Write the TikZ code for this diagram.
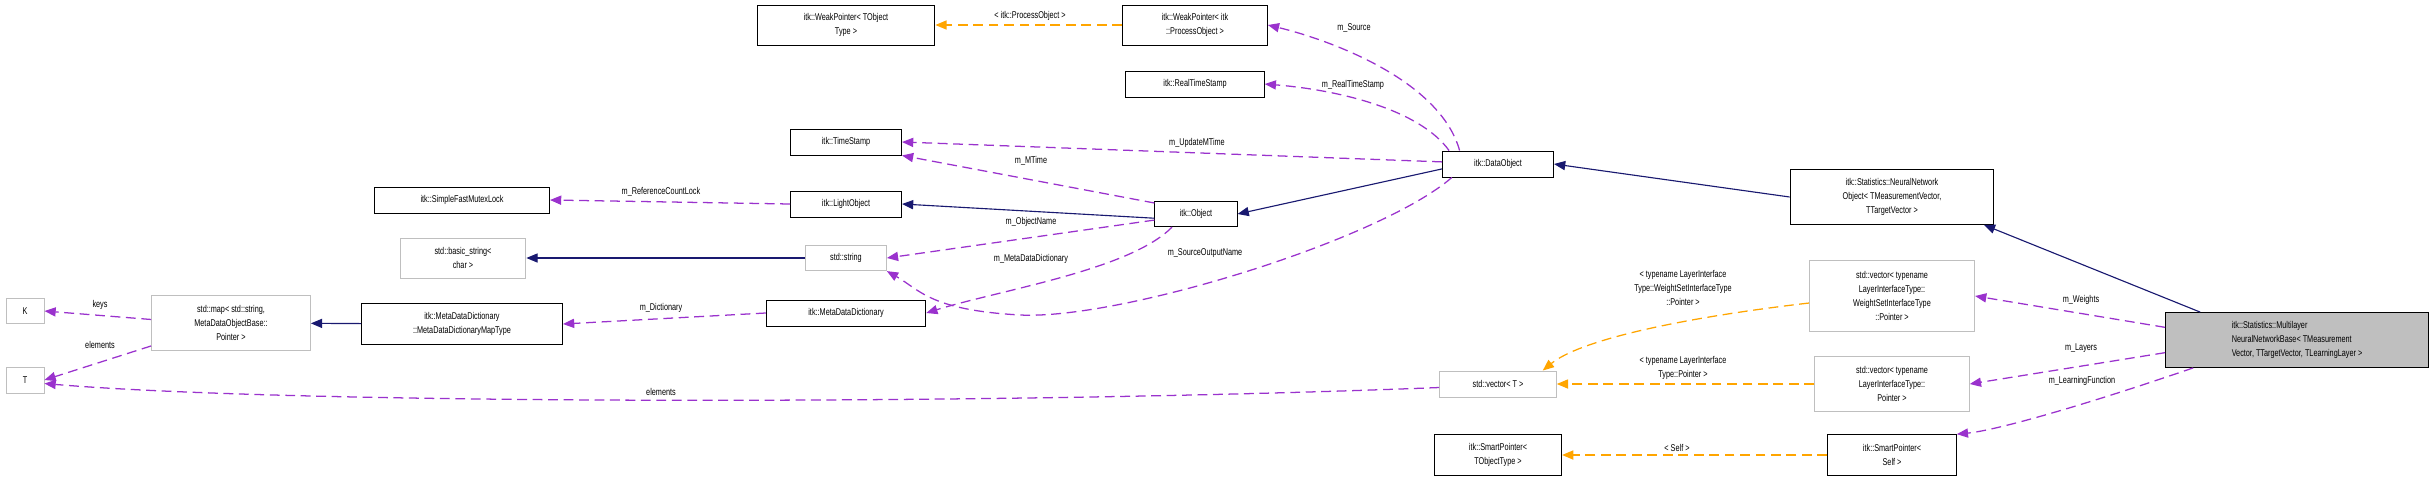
\documentclass[tikz,border=0pt]{standalone}
\usepackage{fontspec}
\setmainfont{Liberation Sans}[FakeStretch=0.74]
\usetikzlibrary{arrows.meta}
\definecolor{usecol}{RGB}{154, 50, 205}
\definecolor{tplcol}{RGB}{255, 165, 0}
\definecolor{inhcol}{RGB}{25, 25, 112}
\definecolor{undoc}{RGB}{191, 191, 191}

\tikzset{
  cls/.style={draw=black,line width=1.3pt,align=center,inner sep=0pt,font=\fontsize{14}{20}\selectfont},
  ext/.style={cls,draw=undoc},
  me/.style={cls,fill=undoc},
  uses/.style={usecol,line width=1.8pt,dash pattern=on 14pt off 8pt,-{Triangle[length=16pt,width=13pt]}},
  tpl/.style={tplcol,line width=1.8pt,dash pattern=on 14pt off 8pt,-{Triangle[length=16pt,width=13pt]}},
  inh/.style={inhcol,line width=1.6pt,-{Triangle[length=16pt,width=13pt]}},
  lbl/.style={font=\fontsize{14}{20}\selectfont,align=center,inner sep=1pt}
}

\begin{document}
\begin{tikzpicture}[x=0.05cm,y=-0.05cm]
  \useasboundingbox (0,0) rectangle (2429,481);

  % classes
  \node[cls,minimum width=253pt,minimum height=57pt] (wpT) at (846,25) {itk::WeakPointer< TObject\\Type >};
  \node[cls,minimum width=206pt,minimum height=57pt] (wpP) at (1195,25) {itk::WeakPointer< itk\\::ProcessObject >};
  \node[cls,minimum width=197pt,minimum height=37pt] (rts) at (1195,84) {itk::RealTimeStamp};
  \node[cls,minimum width=158pt,minimum height=37pt] (ts) at (846,142) {itk::TimeStamp};
  \node[cls,minimum width=158pt,minimum height=37pt] (dobj) at (1498,164) {itk::DataObject};
  \node[cls,minimum width=158pt,minimum height=37pt] (lobj) at (846,204) {itk::LightObject};
  \node[cls,minimum width=249pt,minimum height=37pt] (mutex) at (462,200) {itk::SimpleFastMutexLock};
  \node[cls,minimum width=117pt,minimum height=36pt] (obj) at (1196,214) {itk::Object};
  \node[ext,minimum width=179pt,minimum height=57pt] (bstr) at (463,258) {std::basic\_string<\\char >};
  \node[ext,minimum width=115pt,minimum height=36pt] (str) at (846,258) {std::string};
  \node[cls,minimum width=227pt,minimum height=37pt] (mdd) at (846,313) {itk::MetaDataDictionary};
  \node[cls,minimum width=286pt,minimum height=58pt] (mapt) at (462,324) {itk::MetaDataDictionary\\::MetaDataDictionaryMapType};
  \node[ext,minimum width=226pt,minimum height=78pt] (map) at (231,323) {std::map< std::string,\\MetaDataObjectBase::\\Pointer >};
  \node[ext,minimum width=54pt,minimum height=36pt] (K) at (25,311) {K};
  \node[ext,minimum width=54pt,minimum height=37pt] (T) at (25,380) {T};
  \node[cls,minimum width=290pt,minimum height=78pt] (nno) at (1892,197) {itk::Statistics::NeuralNetwork\\Object< TMeasurementVector,\\TTargetVector >};
  \node[ext,minimum width=235pt,minimum height=100pt] (vw) at (1892,296) {std::vector< typename\\LayerInterfaceType::\\WeightSetInterfaceType\\::Pointer >};
  \node[ext,minimum width=166pt,minimum height=37pt] (vT) at (1498,384) {std::vector< T >};
  \node[ext,minimum width=220pt,minimum height=78pt] (vl) at (1892,384) {std::vector< typename\\LayerInterfaceType::\\Pointer >};
  \node[cls,minimum width=181pt,minimum height=58pt] (spT) at (1498,455) {itk::SmartPointer<\\TObjectType >};
  \node[cls,minimum width=183pt,minimum height=58pt] (spS) at (1892,455) {itk::SmartPointer<\\Self >};
  \node[me,minimum width=374pt,minimum height=78pt,align=left] (mlnn) at (2297,340) {itk::Statistics::Multilayer\\NeuralNetworkBase< TMeasurement\\Vector, TTargetVector, TLearningLayer >};

  % inheritance
  \draw[inh] ([xshift=50pt]mlnn.north west) -- ([xshift=-15pt]nno.south east);
  \draw[inh] (nno.west) -- (dobj.east);
  \draw[inh] ([yshift=-7pt]dobj.west) -- (obj.east);
  \draw[inh] ([yshift=-6pt]obj.west) -- (lobj.east);
  \draw[inh] (str) -- (bstr);
  \draw[inh] (mapt) -- (map);

  % members
  \draw[uses] ([xshift=25pt]dobj.north west) .. controls (1440,80) and (1330,40) .. (wpP.east);
  \draw[uses] ([xshift=10pt]dobj.north west) .. controls (1420,110) and (1340,90) .. (rts.east);
  \draw[uses] ([yshift=3pt]dobj.west) -- (ts.east);
  \draw[uses] ([yshift=-3pt]obj.north west) -- (ts.south east);
  \draw[uses] (lobj.west) -- (mutex.east);
  \draw[uses] ([yshift=10pt]obj.south west) -- (str.east);
  \draw[uses] ([xshift=25pt]obj.south west) .. controls (1130,270) and (1000,290) .. (mdd.east);
  \draw[uses] ([xshift=14pt]dobj.south west) .. controls (1380,240) and (1120,320) .. (1020,315)
    .. controls (930,310) and (920,290) .. (str.south east);
  \draw[uses] (mdd.west) -- (mapt.east);
  \draw[uses] ([yshift=5pt]map.west) -- (K.east);
  \draw[uses] ([yshift=7pt]map.south west) -- (T.east);
  \draw[uses] ([yshift=-5pt]vT.west) .. controls (1000,405) and (300,405) .. ([yshift=-5pt]T.east);
  \draw[uses] ([yshift=18pt]mlnn.west) -- (vw.east);
  \draw[uses] ([yshift=-18pt]mlnn.west) -- (vl.east);
  \draw[uses] ([xshift=40pt]mlnn.south west) .. controls (2100,400) and (2000,430) .. (spS.north east);

  % template arguments
  \draw[tpl] (wpP.west) -- (wpT.east);
  \draw[tpl] ([yshift=-10pt]vw.west) .. controls (1680,318) and (1580,340) .. ([xshift=-20pt]vT.north east);
  \draw[tpl] (vl.west) -- (vT.east);
  \draw[tpl] (spS.west) -- (spT.east);

  % labels
  \node[lbl] (lProc) at (1030,16) {< itk::ProcessObject >};
  \node[lbl] (lSrc) at (1354,28) {m\_Source};
  \node[lbl] (lRts) at (1353,85) {m\_RealTimeStamp};
  \node[lbl] (lUpd) at (1197,143) {m\_UpdateMTime};
  \node[lbl] (lMt) at (1031,161) {m\_MTime};
  \node[lbl] (lRef) at (661,192) {m\_ReferenceCountLock};
  \node[lbl] (lName) at (1031,222) {m\_ObjectName};
  \node[lbl] (lMdd) at (1031,259) {m\_MetaDataDictionary};
  \node[lbl] (lSon) at (1205,253) {m\_SourceOutputName};
  \node[lbl] (lDict) at (661,308) {m\_Dictionary};
  \node[lbl] (lKeys) at (100,305) {keys};
  \node[lbl] (lEl) at (100,345) {elements};
  \node[lbl] (lEl2) at (661,392) {elements};
  \node[lbl] (lWt) at (1683,288) {< typename LayerInterface\\Type::WeightSetInterfaceType\\::Pointer >};
  \node[lbl] (lLt) at (1683,368) {< typename LayerInterface\\Type::Pointer >};
  \node[lbl] (lSelf) at (1677,448) {< Self >};
  \node[lbl] (lW) at (2081,300) {m\_Weights};
  \node[lbl] (lL) at (2081,348) {m\_Layers};
  \node[lbl] (lLF) at (2082,381) {m\_LearningFunction};
\end{tikzpicture}
\end{document}
